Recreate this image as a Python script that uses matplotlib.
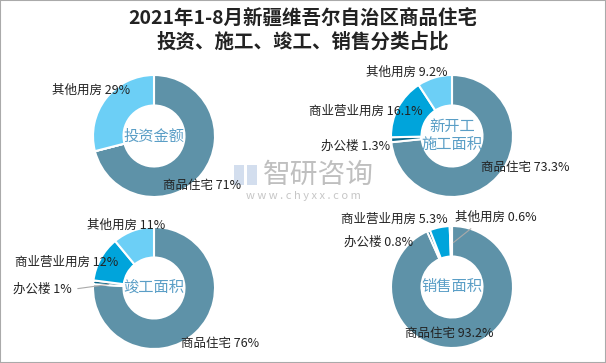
import numpy as np
import matplotlib.pyplot as plt

plt.rcParams['font.family'] = ['Noto Sans CJK SC', 'DejaVu Sans']

W, H = 606, 363

names = ['商品住宅', '办公楼', '商业营业用房', '其他用房']
colors = ['#5e92a8', '#0b6688', '#00a4db', '#6ccff6']

titles = ['投资金额', '新开工\n施工面积', '竣工面积', '销售面积']
invest = [71, 0, 0, 29]
new_start = [73.3, 1.3, 16.1, 9.2]
completed = [76, 1, 12, 11]
sales = [93.2, 0.8, 5.3, 0.6]
pct_text = [
    ['71%', '', '', '29%'],
    ['73.3%', '1.3%', '16.1%', '9.2%'],
    ['76%', '1%', '12%', '11%'],
    ['93.2%', '0.8%', '5.3%', '0.6%'],
]
series = [invest, new_start, completed, sales]

# layout (pixels, origin top-left)
centers = [(154, 136), (452, 136), (154, 288), (452, 287)]
radius = 61
# label anchor (x, y, ha) per chart/slice; None -> no label
label_pos = [
    [(163, 186, 'left'), None, None, (130, 90, 'right')],
    [(481, 167, 'left'), (390, 146, 'right'), (423, 111, 'right'), (447, 72, 'right')],
    [(181, 343, 'left'), (72, 289, 'right'), (118, 262, 'right'), (165, 225, 'right')],
    [(405, 333, 'left'), (413, 242, 'right'), (448, 219, 'right'), (455, 217, 'left')],
]
leaders = {(2, 1): (75, 289), (3, 3): (473, 227)}

fig = plt.figure(figsize=(W / 100, H / 100), dpi=100, facecolor='white')

fig.text(0.5, 1 - 18 / H, '2021年1-8月新疆维吾尔自治区商品住宅', ha='center', va='center',
         fontsize=14, fontweight='bold', color='#222222')
fig.text(0.5, 1 - 42 / H, '投资、施工、竣工、销售分类占比', ha='center', va='center',
         fontsize=14, fontweight='bold', color='#222222')

# watermark
fig.text(263 / W, 1 - 175 / H, '智研咨询', ha='left', va='center', fontsize=20,
         color='#b0b0b0', alpha=0.8)
fig.text(303 / W, 1 - 196 / H, 'w w w . c h y x x . c o m', ha='center', va='center',
         fontsize=8, color='#b8b8b8', alpha=0.8)
for rx, ry, rw, rh in [(234, 165, 10, 20), (247, 165, 10, 20)]:
    fig.patches.append(plt.Rectangle((rx / W, 1 - (ry + rh) / H), rw / W, rh / H,
                                     transform=fig.transFigure, facecolor='#c9d6ea',
                                     edgecolor='none', alpha=0.8))

for i, vals in enumerate(series):
    cx, cy = centers[i]
    ax = fig.add_axes([(cx - radius) / W, 1 - (cy + radius) / H, 2 * radius / W, 2 * radius / H])
    wedges, _ = ax.pie(vals, colors=colors, startangle=90, counterclock=False, radius=1,
                       wedgeprops=dict(width=0.5, edgecolor='white', linewidth=1.5))
    ax.set_xlim(-1, 1)
    ax.set_ylim(-1, 1)
    ax.axis('off')
    ax.text(0, 0, titles[i], ha='center', va='center', fontsize=11, color='#5a9ec6',
            linespacing=1.1)
    for j, v in enumerate(vals):
        pos = label_pos[i][j]
        if pos is None:
            continue
        tx, ty, ha = pos
        fig.text(tx / W, 1 - ty / H, names[j] + ' ' + pct_text[i][j], ha=ha, va='center',
                 fontsize=9, color='#222222')
        if (i, j) in leaders:
            w = wedges[j]
            mid = np.deg2rad((w.theta1 + w.theta2) / 2)
            px, py = leaders[(i, j)]
            ax.annotate('', xy=(0.7 * np.cos(mid), 0.7 * np.sin(mid)), xycoords='data',
                        xytext=(px, H - py), textcoords='figure pixels',
                        arrowprops=dict(arrowstyle='-', color='#aaaaaa', lw=0.8))

# outer frame
fig.patches.append(plt.Rectangle((0, 0), 1, 1, transform=fig.transFigure, fill=False,
                                 edgecolor='#aaaaaa', linewidth=1.5))

fig.savefig('out.png', dpi=100)
